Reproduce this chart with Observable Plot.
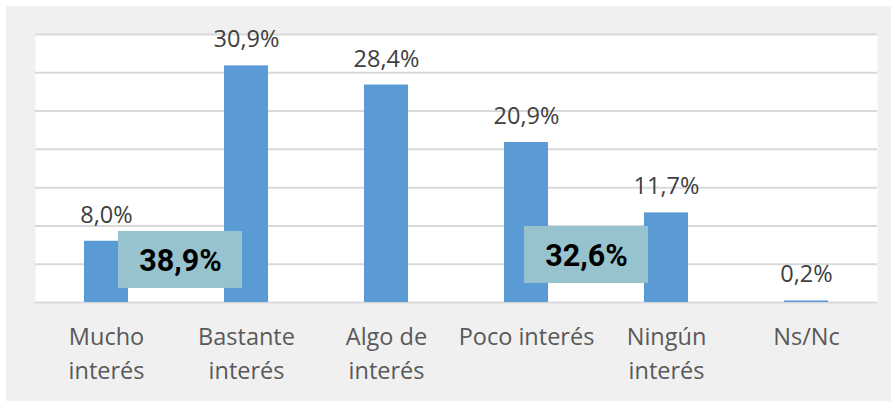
<!DOCTYPE html>
<html>
<head>
<meta charset="utf-8">
<script src="https://cdn.jsdelivr.net/npm/d3@7"></script>
<script src="https://cdn.jsdelivr.net/npm/@observablehq/plot@0.6"></script>
<style>
  html, body { margin: 0; padding: 0; background: #ffffff; }
  #panel { position: absolute; left: 6px; top: 6px; width: 885px; height: 395px; background: #f0f0f0; }
</style>
</head>
<body>
<div id="panel"></div>
<script>
const categories = ["Mucho interés", "Bastante interés", "Algo de interés", "Poco interés", "Ningún interés", "Ns/Nc"];
const tickLabels = ["Mucho\ninterés", "Bastante\ninterés", "Algo de\ninterés", "Poco interés", "Ningún\ninterés", "Ns/Nc"];
const values = [8.0, 30.9, 28.4, 20.9, 11.7, 0.2];
const valueLabels = ["8,0%", "30,9%", "28,4%", "20,9%", "11,7%", "0,2%"];
const groupLabels = ["38,9%", "32,6%"];
const groupStart = ["Mucho interés", "Poco interés"];
const yTicks = [0, 5, 10, 15, 20, 25, 30, 35];

const data = categories.map((c, i) => ({cat: c, value: values[i], label: valueLabels[i]}));
const g1 = [{cat: groupStart[0], label: groupLabels[0]}];
const g2 = [{cat: groupStart[1], label: groupLabels[1]}];
const tickMap = new Map(categories.map((c, i) => [c, tickLabels[i]]));

const font = "'Open Sans', sans-serif";
const boldFont = "Roboto, sans-serif";

const chart = Plot.plot({
  width: 885,
  height: 395,
  marginLeft: 29,
  marginRight: 14,
  marginTop: 28,
  marginBottom: 99,
  style: {background: "transparent", fontFamily: font},
  x: {domain: categories, padding: 0, label: null},
  y: {domain: [0, 35], axis: null},
  marks: [
    Plot.frame({fill: "#ffffff", stroke: null}),
    Plot.ruleY(yTicks, {stroke: "#d9d9d9", strokeWidth: 2}),
    Plot.barY(data, {x: "cat", y: "value", fill: "#5b9bd5", insetLeft: 48, insetRight: 48}),
    Plot.text(data, {x: "cat", y: "value", text: "label", dy: -26, fontSize: 23.5, fill: "#404040", fontFamily: font}),
    Plot.barY(g1, {x: "cat", y1: 1.83, y2: 9.27, fill: "#97c3cf", insetLeft: 82, insetRight: -66}),
    Plot.text(g1, {x: "cat", y: 5.4, text: "label", dx: 74, fontSize: 30.5, fontWeight: "bold", fill: "#000000", fontFamily: boldFont}),
    Plot.barY(g2, {x: "cat", y1: 2.48, y2: 9.93, fill: "#97c3cf", insetLeft: 68, insetRight: -52}),
    Plot.text(g2, {x: "cat", y: 6.05, text: "label", dx: 60, fontSize: 30.5, fontWeight: "bold", fill: "#000000", fontFamily: boldFont}),
    Plot.axisX({tickSize: 0, tickPadding: 18, fontSize: 23.5, lineHeight: 34 / 23.5, tickFormat: d => tickMap.get(d), fill: "#595959", fontFamily: font, label: null})
  ]
});
document.getElementById("panel").appendChild(chart);
</script>
</body>
</html>
